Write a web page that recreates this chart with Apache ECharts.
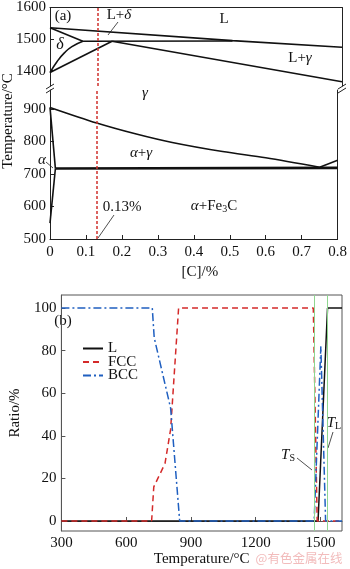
<!DOCTYPE html>
<html lang="zh">
<head>
<meta charset="UTF-8" />
<title>Fe-C</title>
<style>
  html, body { margin: 0; padding: 0; background: #fff; }
  #chart { width: 350px; height: 569px; }
</style>
</head>
<body>
<div id="chart"></div>
<script src="https://cdn.jsdelivr.net/npm/echarts@6/dist/echarts.min.js"></script>
<script>
// ---- (a) phase diagram, upper part (1350-1600 °C) ----
var liquidus = [[0, 1536], [0.5, 1495], [0.8, 1474]];
var deltaSolidus = [[0, 1536], [0.09, 1493]];
var peritectic = [[0.09, 1493], [0.5, 1494]];
var deltaBound = [[0, 1394], [0.02, 1430], [0.04, 1457], [0.06, 1476], [0.09, 1493]];
var gammaBound = [[0, 1394], [0.17, 1493]];
var gammaSolidus = [[0.17, 1493], [0.8, 1365]];
// ---- (a) lower part (500-960 °C) ----
var a3Line = [[0, 905], [0.13, 857], [0.24, 823], [0.34, 797], [0.48, 769], [0.6, 750], [0.75, 721]];
var acmLine = [[0.75, 721], [0.8, 742]];
var alphaBound = [[0, 905], [0.015, 717]];
var alphaSolvus = [[0.015, 717], [0, 549]];
var eutectoid = [[0.015, 717], [0.8, 719]];
var steelC = 0.13;
var cTicks = [0, 0.1, 0.2, 0.3, 0.4, 0.5, 0.6, 0.7, 0.8];
var upperTicks = [1400, 1500, 1600];
var lowerTicks = [500, 600, 700, 800, 900];

// ---- (b) phase fractions ----
var liqFrac = [[300, 0], [1489, 0], [1533, 100], [1600, 100]];
var fccFrac = [[300, 0], [718, 0], [728, 16], [780, 27], [806, 43], [843, 100], [1467, 100], [1485, 0], [1600, 0]];
var bccFrac = [[300, 100], [721, 100], [730, 86], [806, 53], [848, 0], [1471, 0], [1502, 82], [1524, 0], [1600, 0]];
var tSolidus = 1471;
var tLiquidus = 1533;
var tempTicks = [300, 600, 900, 1200, 1500];
var ratioTicks = [0, 20, 40, 60, 80, 100];

var serif = '"Liberation Serif", "DejaVu Serif", serif';
var ink = '#111';
var chart = echarts.init(document.getElementById('chart'));

function plain(v) { return String(v); }

function frameAxis(grid, min, max) {
    return {
        type: 'value', gridIndex: grid, position: 'right', min: min, max: max,
        axisLine: { show: true, lineStyle: { color: '#222', width: 1 } },
        axisTick: { show: false }, axisLabel: { show: false }, splitLine: { show: false }
    };
}

function curve(data, xi, yi, smooth) {
    return {
        type: 'line', data: data, xAxisIndex: xi, yAxisIndex: yi,
        symbol: 'none', smooth: smooth || false, silent: true,
        lineStyle: { color: ink, width: 1.6 }
    };
}

function label(x, y, text, size) {
    return {
        type: 'text', x: x, y: y, silent: true,
        style: {
            text: text, fill: ink, fontSize: size || 15, fontFamily: serif,
            align: 'center', verticalAlign: 'middle',
            textAlign: 'center', textVerticalAlign: 'middle',
            rich: {
                i: { fontStyle: 'italic', fontSize: size || 15, fontFamily: serif },
                n: { fontSize: size || 15, fontFamily: serif },
                sub: { fontSize: 10, fontFamily: serif, padding: [7, 0, 0, 0] }
            }
        }
    };
}

function stroke(x1, y1, x2, y2, w) {
    return {
        type: 'line', silent: true,
        shape: { x1: x1, y1: y1, x2: x2, y2: y2 },
        style: { stroke: '#222', lineWidth: w || 0.8 }
    };
}

var axisFont = { fontFamily: serif, fontSize: 15, color: ink, formatter: plain };

var series = [];
[liquidus, deltaSolidus, peritectic, gammaBound, gammaSolidus].forEach(function (d) {
    series.push(curve(d, 0, 0));
});
series.push(curve(deltaBound, 0, 0, true));
series.push(curve(a3Line, 1, 2, 0.3));
[acmLine, alphaBound, alphaSolvus].forEach(function (d) {
    series.push(curve(d, 1, 2));
});
var eu = curve(eutectoid, 1, 2);
eu.lineStyle.width = 2.6;
series.push(eu);

// red dotted composition line, in both halves
[[0, 0], [1, 2]].forEach(function (p) {
    series.push({
        type: 'line', data: [], xAxisIndex: p[0], yAxisIndex: p[1], silent: true,
        markLine: {
            symbol: 'none', silent: true, label: { show: false },
            lineStyle: { color: '#d0302c', width: 1.5, type: [3, 2] },
            data: [{ xAxis: steelC }]
        }
    });
});

series.push({
    name: 'L', type: 'line', data: liqFrac, xAxisIndex: 2, yAxisIndex: 4,
    symbol: 'none', lineStyle: { color: '#111', width: 1.5 },
    itemStyle: { color: '#111' },
    markLine: {
        symbol: 'none', silent: true, label: { show: false },
        lineStyle: { color: '#8fd68f', width: 1, type: 'solid' },
        data: [{ xAxis: tSolidus }, { xAxis: tLiquidus }]
    }
});
series.push({
    name: 'FCC', type: 'line', data: fccFrac, xAxisIndex: 2, yAxisIndex: 4,
    symbol: 'none', lineStyle: { color: '#d42a2a', width: 1.5, type: [6, 4] },
    itemStyle: { color: '#d42a2a' }
});
series.push({
    name: 'BCC', type: 'line', data: bccFrac, xAxisIndex: 2, yAxisIndex: 4,
    symbol: 'none', lineStyle: { color: '#1f5fc0', width: 1.5, type: [8, 3, 2, 3] },
    itemStyle: { color: '#1f5fc0' }
});

var option = {
    animation: false,
    backgroundColor: '#fff',
    grid: [
        { left: 50, top: 4, width: 292, height: 82 },
        { left: 50, top: 90, width: 292, height: 149 },
        { left: 50, top: 295, width: 292, height: 236, show: true, borderColor: '#555', borderWidth: 1 }
    ],
    xAxis: [
        {
            type: 'value', gridIndex: 0, position: 'top', min: 0, max: 0.8,
            axisLine: { show: true, lineStyle: { color: '#222' } },
            axisTick: { show: false }, axisLabel: { show: false }, splitLine: { show: false }
        },
        {
            type: 'value', gridIndex: 1, min: 0, max: 0.8,
            name: '[C]/%', nameLocation: 'middle', nameGap: 26,
            nameTextStyle: { fontFamily: serif, fontSize: 15, color: ink, padding: [0, 0, 0, 12] },
            axisLine: { show: true, lineStyle: { color: '#222' } },
            axisTick: { show: true, inside: true, length: 4, customValues: cTicks, lineStyle: { color: '#222' } },
            axisLabel: Object.assign({ margin: 6, customValues: cTicks }, axisFont),
            splitLine: { show: false }
        },
        {
            type: 'value', gridIndex: 2, min: 300, max: 1600,
            name: 'Temperature/°C', nameLocation: 'middle', nameGap: 20,
            nameTextStyle: { fontFamily: serif, fontSize: 15, color: ink },
            axisLine: { show: true, lineStyle: { color: '#555' } },
            axisTick: { show: true, inside: true, length: 4, customValues: tempTicks, lineStyle: { color: '#555' } },
            axisLabel: Object.assign({ margin: 5, customValues: tempTicks }, axisFont),
            splitLine: { show: false }
        }
    ],
    yAxis: [
        {
            type: 'value', gridIndex: 0, min: 1351.5, max: 1600,
            axisLine: { show: true, lineStyle: { color: '#222' } },
            axisTick: { show: true, inside: true, length: 4, customValues: upperTicks, lineStyle: { color: '#222' } },
            axisLabel: Object.assign({ margin: 4, customValues: upperTicks }, axisFont),
            splitLine: { show: false }
        },
        frameAxis(0, 1351.5, 1600),
        {
            type: 'value', gridIndex: 1, min: 500, max: 958.5,
            axisLine: { show: true, lineStyle: { color: '#222' } },
            axisTick: { show: true, inside: true, length: 4, customValues: lowerTicks, lineStyle: { color: '#222' } },
            axisLabel: Object.assign({ margin: 4, customValues: lowerTicks }, axisFont),
            splitLine: { show: false }
        },
        frameAxis(1, 500, 958.5),
        {
            type: 'value', gridIndex: 2, min: -4.7, max: 106.1,
            name: 'Ratio/%', nameLocation: 'middle', nameGap: 25,
            nameTextStyle: { fontFamily: serif, fontSize: 15, color: ink },
            axisLine: { show: true, lineStyle: { color: '#555' } },
            axisTick: { show: true, inside: true, length: 4, customValues: ratioTicks, lineStyle: { color: '#555' } },
            axisLabel: Object.assign({ margin: 5, customValues: ratioTicks }, axisFont),
            splitLine: { show: false }
        }
    ],
    legend: {
        data: ['L', 'FCC', 'BCC'],
        orient: 'vertical', left: 77, top: 336,
        itemWidth: 20, itemHeight: 10, itemGap: -1.5,
        itemStyle: { opacity: 0 },
        textStyle: { fontFamily: serif, fontSize: 15, color: ink, lineHeight: 12 }
    },
    series: series,
    graphic: [
        // axis name of (a), centred on both halves
        {
            type: 'text', x: 8, y: 121, rotation: Math.PI / 2, silent: true,
            style: { text: 'Temperature/°C', fill: ink, fontSize: 15, fontFamily: serif,
                align: 'center', verticalAlign: 'middle', textAlign: 'center', textVerticalAlign: 'middle' }
        },
        // axis breaks
        { type: 'rect', shape: { x: 45, y: 86, width: 10, height: 4 }, style: { fill: '#fff' }, silent: true },
        { type: 'rect', shape: { x: 337, y: 86, width: 10, height: 4 }, style: { fill: '#fff' }, silent: true },
        stroke(46, 89, 54, 84, 1), stroke(46, 93, 54, 88, 1),
        stroke(338, 89, 346, 84, 1), stroke(338, 93, 346, 88, 1),
        // labels of (a)
        label(63, 16, '(a)'),
        label(119, 15, '{n|L+}{i|δ}'),
        stroke(118, 22, 108, 35),
        label(60, 45, '{i|δ}', 16),
        label(224, 19, 'L'),
        label(300, 58, '{n|L+}{i|γ}'),
        label(145, 93, '{i|γ}'),
        label(141, 153, '{i|α}{n|+}{i|γ}'),
        label(42, 160, '{i|α}'),
        stroke(46, 162, 53, 168),
        label(122, 207, '0.13%'),
        stroke(114, 215, 98, 238),
        label(214, 206, '{i|α}{n|+Fe}{sub|3}{n|C}'),
        // labels of (b)
        label(63, 321, '(b)'),
        label(288, 455, '{i|T}{sub|S}'),
        stroke(297, 458, 312, 470),
        label(334, 423, '{i|T}{sub|L}'),
        stroke(333, 432, 328, 448),
        {
            type: 'text', x: 299, y: 558, silent: true,
            style: { text: '@有色金属在线', fill: '#f2bcbc', fontSize: 12.5,
                fontFamily: '"Noto Sans CJK SC", sans-serif',
                align: 'center', verticalAlign: 'middle', textAlign: 'center', textVerticalAlign: 'middle' }
        }
    ]
};
chart.setOption(option);
</script>
</body>
</html>
